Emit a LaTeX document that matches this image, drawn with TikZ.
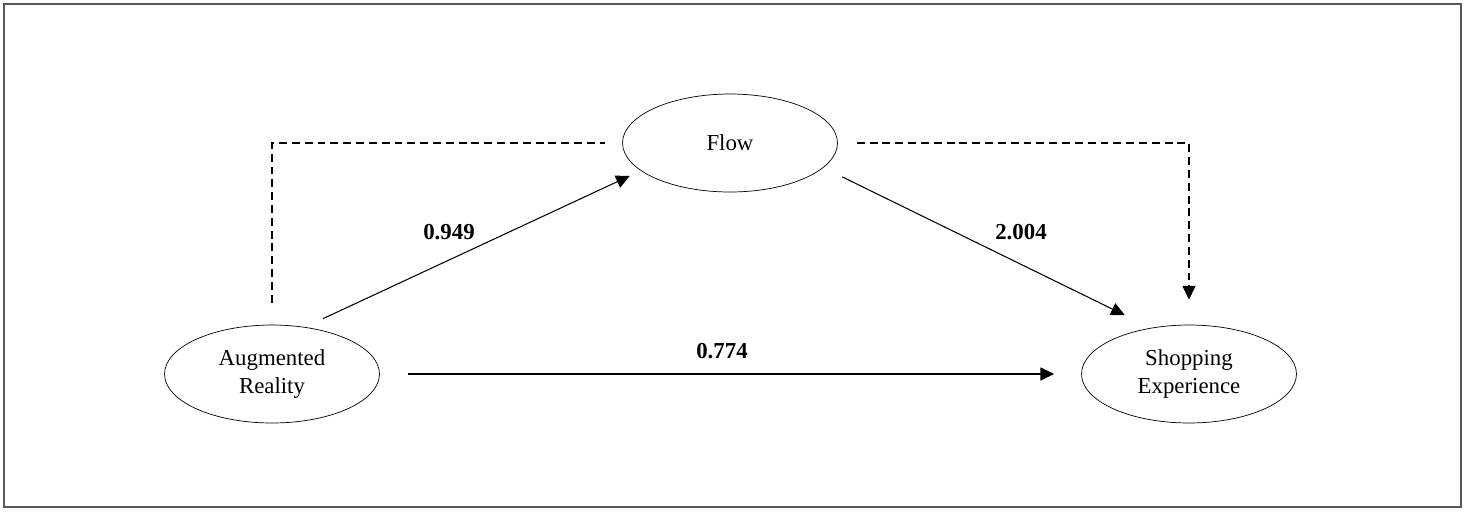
\documentclass[tikz,border=0pt]{standalone}
\usepackage{fontspec}
\setmainfont{Liberation Serif}
\usetikzlibrary{shapes.geometric,arrows.meta,calc}
\begin{document}
\begin{tikzpicture}[x=0.02cm,y=-0.02cm,
  construct/.style={draw,ellipse,minimum width=4.3cm,minimum height=1.96cm,inner sep=0pt,
    align=center,font=\fontsize{13}{16}\selectfont},
  coef/.style={font=\fontsize{13}{16}\selectfont\bfseries},
  path/.style={line width=0.6pt,-{Triangle[length=7.8pt,width=7.4pt]}},
  dashpath/.style={line width=0.6pt,dash pattern=on 4.5pt off 2.8pt}]
\useasboundingbox (0,0) rectangle (1465,512);
\draw[gray!70!black,line width=1.2pt] (4,4) rectangle (1461,507);
% constructs
\node[construct] (ar) at (272,374) {Augmented\\Reality};
\node[construct] (flow) at (730,143) {Flow};
\node[construct] (se) at (1189,374) {Shopping\\Experience};
% paths
\draw[path] ($(ar.north)+(51,-6)$) -- ($(flow.south west)+(-24,-2)$);
\draw[path] ($(flow.south east)+(36,-1)$) -- ($(se.north west)+(12,-24)$);
\draw[path] ($(ar.east)+(28,0)$) -- ($(se.west)+(-27,0)$);
\node[coef] (b1) at (449,232) {0.949};
\node[coef] (b2) at (1021,232) {2.004};
\node[coef] (b3) at (722,351) {0.774};
% indirect (dashed)
\draw[dashpath] ($(ar.north)+(0,-22)$) |- ($(flow.west)+(-17,0)$);
\draw[dashpath,-{Triangle[length=7.8pt,width=7.4pt]}] ($(flow.east)+(19,0)$) -| ($(se.north)+(0,-25)$);
\end{tikzpicture}
\end{document}
